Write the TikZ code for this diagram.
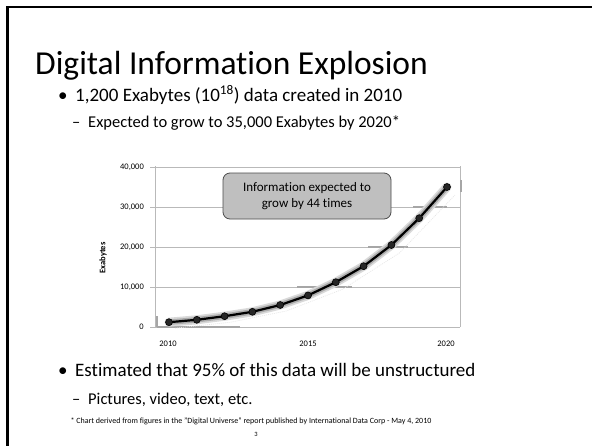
\documentclass[tikz,border=0pt]{standalone}
\usepackage{fontspec}
\setmainfont{Carlito}[Ligatures=NoCommon]
\begin{document}
\begin{tikzpicture}[x=1pt,y=-1pt,
  txt/.style={inner sep=0pt, anchor=base west},
  lvla/.style={txt, font=\fontsize{19}{21}\selectfont},
  lvlb/.style={txt, font=\fontsize{16.5}{19}\selectfont},
  grid/.style={draw=gray!55, line width=0.8pt},
  axlab/.style={inner sep=0pt, font=\fontsize{8.5}{9}\selectfont},
  marker/.style={circle, fill=black!85, draw=black, line width=0.6pt, minimum size=7pt, inner sep=0pt},
  artifact/.style={draw=gray!70, line width=1.4pt},
  callout/.style={draw=black!70, fill=gray!50, rounded corners=7pt, line width=0.8pt, minimum width=168pt, minimum height=46pt, align=center, font=\fontsize{13}{16}\selectfont}]
\useasboundingbox (0,0) rectangle (592,445);
\fill[white] (0,0) rectangle (592,445);
% slide frame
\draw[line width=2.4pt, line cap=rect] (7.5,445) -- (7.5,7) -- (592,7);
% title
\node[txt, font=\fontsize{33.5}{36}\selectfont] (title) at (35,74) {Digital Information Explosion};
% bullets
\node[lvla] (b1dot) at (58,101) {•};
\node[lvla] (b1) at (75,101) {1,200 Exabytes (10\textsuperscript{18}) data created in 2010};
\node[lvlb] (s1dot) at (72,127) {–};
\node[lvlb] (s1) at (88,127) {Expected to grow to 35,000 Exabytes by 2020*};
\node[lvla] (b2dot) at (58,376) {•};
\node[lvla] (b2) at (75,376) {Estimated that 95\% of this data will be unstructured};
\node[lvlb] (s2dot) at (72,404) {–};
\node[lvlb] (s2) at (88,404) {Pictures, video, text, etc.};
\node[font=\fontsize{8}{9}\selectfont, inner sep=0pt] (foot) at (251,421) {* Chart derived from figures in the "Digital Universe" report published by International Data Corp - May 4, 2010};
\node[font=\fontsize{6.5}{7}\selectfont, inner sep=0pt] (page) at (256,434) {3};
% chart grid
\foreach \v/\lab in {0/0,1/{10,000},2/{20,000},3/{30,000},4/{40,000}}{
  \draw[grid] (150,327-40*\v) -- (460,327-40*\v);
  \node[axlab, anchor=east] (yl\v) at (144,327-40*\v) {\lab};
}
\draw[grid] (155,166) -- (155,327);
\draw[grid] (460,166) -- (460,327);
\node[axlab, rotate=90, font=\fontsize{8.5}{9}\selectfont\bfseries] (ylab) at (103,258) {Exabytes};
\node[axlab] (x2010) at (168,344) {2010};
\node[axlab] (x2015) at (308,344) {2015};
\node[axlab] (x2020) at (446,344) {2020};
% artifacts
\draw[artifact] (157,327) -- (240,327);
\draw[artifact] (157,316) -- (157,327);
\draw[artifact] (297,287) -- (352,287);
\draw[artifact] (368,247) -- (408,247);
\draw[artifact] (413,207) -- (447,207);
\draw[artifact, line width=2.5pt] (461,180) -- (461,192);
% data (values in thousands)
\foreach \i/\val in {0/1.2,1/1.8,2/2.7,3/3.8,4/5.5,5/7.9,6/11.2,7/15.2,8/20.5,9/27.2,10/35.0}{
  \coordinate (p\i) at ({169+27.8*\i},{327-4*\val});
}
\draw[gray!20, line width=0.6pt, dash pattern=on 1pt off 1pt] ([shift={(6,6)}]p0) -- ([shift={(6,6)}]p2) -- ([shift={(6,6)}]p4) -- ([shift={(7,7)}]p6) -- ([shift={(8,8)}]p8) -- ([shift={(8,8)}]p10);
\draw[gray!30, line width=9pt, line join=round, line cap=round] (p0) -- (p1) -- (p2) -- (p3) -- (p4) -- (p5) -- (p6) -- (p7) -- (p8) -- (p9) -- (p10);
\draw[gray!65, line width=5.5pt, line join=round, line cap=round] (p0) -- (p1) -- (p2) -- (p3) -- (p4) -- (p5) -- (p6) -- (p7) -- (p8) -- (p9) -- (p10);
\draw[black, line width=2.2pt, line join=round] (p0) -- (p1) -- (p2) -- (p3) -- (p4) -- (p5) -- (p6) -- (p7) -- (p8) -- (p9) -- (p10);
\foreach \i in {0,...,10}{ \node[marker] (m\i) at (p\i) {}; }
% callout
\node[callout] (box) at (307,196) {Information expected to\\grow by 44 times};
\end{tikzpicture}
\end{document}
